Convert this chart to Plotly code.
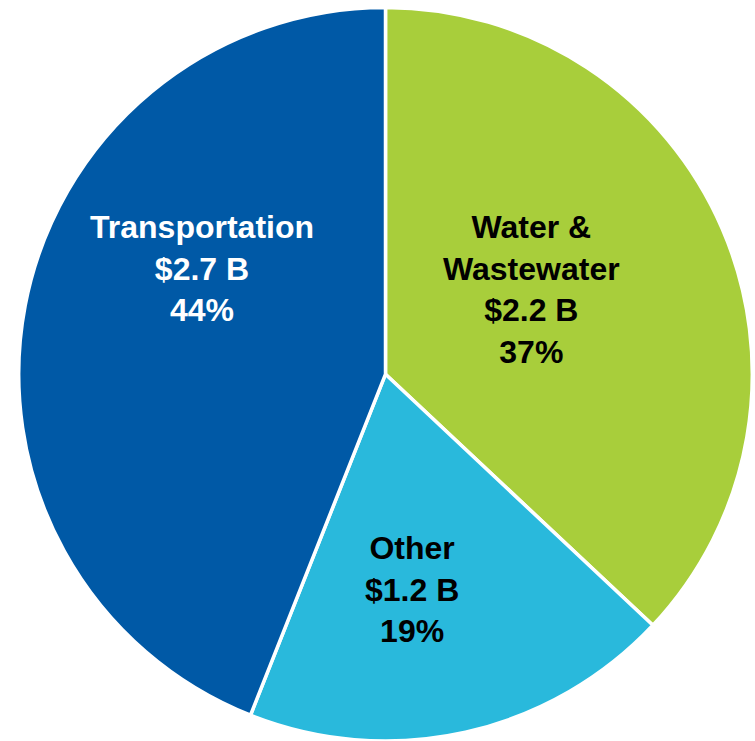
import plotly.graph_objects as go

# Capital budget by program area
categories = ["Water &<br>Wastewater", "Other", "Transportation"]
amounts_b = [2.2, 1.2, 2.7]          # billions of dollars
shares_pct = [37, 19, 44]            # share of total, percent
colors = ["#A8CE3B", "#29B9DC", "#0059A6"]
text_colors = ["#000000", "#000000", "#FFFFFF"]

# label anchor points (paper coordinates) for each slice
label_xy = [(0.7045, 0.609), (0.546, 0.2045), (0.2675, 0.638)]

W, H = 755, 741

fig = go.Figure(
    go.Pie(
        labels=[c.replace("<br>", " ") for c in categories],
        values=shares_pct,
        sort=False,
        direction="clockwise",
        rotation=0,
        marker=dict(colors=colors, line=dict(color="#FFFFFF", width=3.5)),
        textinfo="none",
        hoverinfo="label+value",
        showlegend=False,
        domain=dict(x=[18.5 / W, 752.5 / W], y=[0.0, 0.99]),
    )
)

for cat, amt, pct, tc, (x, y) in zip(categories, amounts_b, shares_pct, text_colors, label_xy):
    fig.add_annotation(
        x=x, y=y, xref="paper", yref="paper",
        text=f"{cat}<br>${amt:.1f} B<br>{pct}%",
        showarrow=False,
        align="center",
        font=dict(family="Liberation Sans, Arial, sans-serif", size=32, color=tc, weight="bold"),
        xanchor="center", yanchor="middle",
    )

fig.update_layout(
    width=W, height=H,
    margin=dict(l=0, r=0, t=0, b=0),
    paper_bgcolor="#FFFFFF",
    plot_bgcolor="#FFFFFF",
)

fig.write_html("out.html")
